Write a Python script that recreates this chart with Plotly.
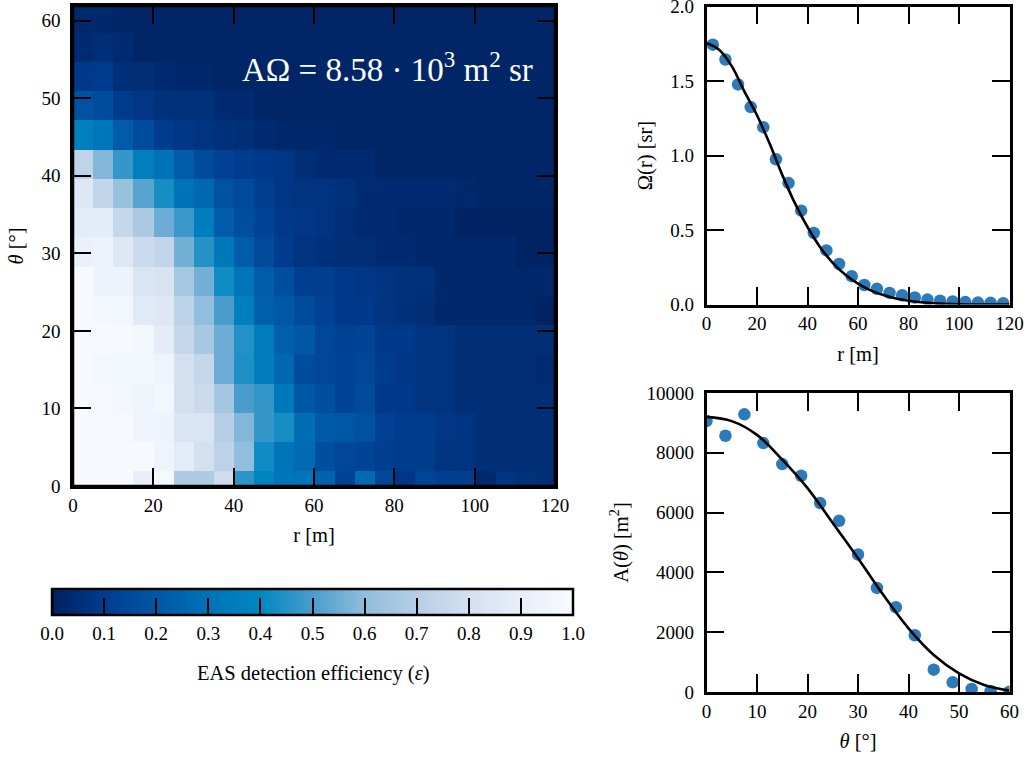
import plotly.graph_objects as go

# ---------- data ----------
r_bins = [2.5 + 5 * i for i in range(24)]
theta_bins = [0, 3.75, 7.5, 11.25, 15, 18.75, 22.5, 26.25, 30, 33.75, 37.5, 41.25, 45, 48.75, 52.5, 56.25, 60]
eff = [
 [.99,.99,.99,.90,.98,.68,.68,.78,.46,.38,.32,.31,.24,.12,.27,.14,.08,.13,.11,.11,.03,.07,.06,.05],
 [.99,.99,.99,.99,.94,.87,.80,.72,.60,.42,.31,.27,.17,.14,.13,.11,.10,.10,.07,.07,.05,.05,.05,.05],
 [.99,.99,.98,.95,.93,.83,.83,.70,.58,.47,.43,.28,.21,.20,.18,.12,.10,.10,.08,.07,.05,.05,.05,.05],
 [.99,.99,.96,.94,.96,.80,.77,.65,.50,.47,.33,.20,.17,.13,.15,.09,.09,.07,.07,.05,.05,.05,.05,.05],
 [.99,.96,.97,.97,.94,.80,.75,.55,.44,.35,.26,.16,.14,.13,.14,.10,.08,.07,.07,.05,.05,.05,.05,.04],
 [.99,.99,.99,.96,.88,.75,.66,.55,.45,.34,.23,.20,.14,.12,.13,.09,.09,.07,.07,.05,.05,.05,.05,.05],
 [.99,.97,.96,.86,.85,.72,.60,.50,.36,.23,.20,.15,.12,.09,.09,.07,.06,.05,.03,.03,.03,.03,.03,.01],
 [.99,.93,.93,.83,.82,.66,.56,.42,.31,.22,.17,.11,.11,.09,.08,.07,.06,.06,.03,.03,.03,.03,.03,.03],
 [.92,.93,.85,.77,.74,.56,.45,.33,.22,.15,.10,.07,.06,.05,.05,.04,.04,.03,.03,.03,.03,.03,.01,.01],
 [.88,.88,.75,.67,.55,.48,.35,.22,.17,.13,.09,.08,.07,.05,.04,.04,.03,.03,.03,.01,.01,.01,.01,.01],
 [.85,.74,.62,.52,.43,.30,.26,.18,.15,.11,.08,.07,.07,.06,.04,.04,.04,.04,.04,.03,.02,.02,.02,.02],
 [.73,.58,.47,.36,.30,.22,.16,.12,.10,.09,.08,.05,.04,.04,.04,.02,.02,.02,.02,.02,.02,.02,.02,.02],
 [.36,.32,.22,.16,.10,.08,.07,.06,.05,.04,.03,.03,.03,.02,.02,.02,.02,.02,.02,.02,.02,.02,.02,.02],
 [.18,.16,.10,.08,.06,.06,.06,.04,.04,.02,.02,.02,.02,.02,.02,.02,.02,.02,.02,.02,.02,.02,.02,.02],
 [.09,.10,.05,.05,.04,.03,.03,.02,.02,.02,.02,.02,.02,.02,.02,.02,.02,.02,.02,.02,.02,.02,.02,.02],
 [.04,.05,.04,.02,.02,.02,.02,.02,.02,.02,.02,.02,.02,.02,.02,.02,.02,.02,.02,.02,.02,.02,.02,.02],
 [.03,.03,.02,.02,.02,.02,.02,.02,.02,.02,.02,.02,.02,.02,.02,.02,.02,.02,.02,.02,.02,.02,.02,.02],
]
omega_r = r_bins
omega_vals = [1.744,1.644,1.477,1.325,1.19,.975,.815,.63,.48,.363,.272,.19,.131,.105,.078,.062,.047,.033,.025,.02,.016,.013,.011,.009]
omega_fit_r = [0,5,10,15,20,25,30,35,40,45,50,55,60,65,70,75,80,85,90,100,120]
omega_fit = [1.755,1.71,1.60,1.43,1.27,1.08,.87,.68,.52,.385,.28,.20,.14,.095,.063,.04,.025,.015,.008,.002,0]
area_theta = theta_bins
area_vals = [9062,8571,9286,8326,7623,7232,6317,5725,4598,3482,2835,1897,748,324,100,30,10]
area_fit_theta = [0,5,10,15,20,25,30,35,40,45,50,55,60]
area_fit = [9200,9060,8600,7770,6820,5650,4475,3250,2130,1240,625,235,45]
colors = [[0,"#00205f"],[.1,"#003c8e"],[.2,"#0057a6"],[.3,"#0072b8"],[.4,"#0088c0"],[.5,"#4a9ccd"],
          [.6,"#90bedc"],[.7,"#b6cee6"],[.8,"#d4e0f0"],[.9,"#e8effa"],[1,"#f8fbff"]]
annotation_text = "AΩ = 8.58 · 10<sup>3</sup> m<sup>2</sup> sr"

# ---------- layout helpers ----------
W, H = 1028, 758
def dx(a, b): return [a / W, b / W]
def dy(top, bot): return [1 - bot / H, 1 - top / H]
FONT = "Liberation Serif"
TICK = dict(family=FONT, size=19, color="black")
TITLE = dict(family=FONT, size=20.5, color="black")
def ax(**k):
    base = dict(showline=True, linecolor="black", linewidth=2.5, mirror="allticks", ticks="inside",
                ticklen=18, tickwidth=1.5, tickcolor="black", showgrid=False, zeroline=False,
                tickfont=TICK, ticklabelstandoff=6, ticklabeloverflow="allow")
    base.update(k)
    return base
def xax(**k):
    return ax(ticklabelstandoff=0, **k)

fig = go.Figure()
fig.add_trace(go.Heatmap(x=r_bins, y=theta_bins, z=eff, coloraxis="coloraxis", xaxis="x", yaxis="y", hoverinfo="skip"))
fig.add_trace(go.Scatter(x=omega_r, y=omega_vals, mode="markers", marker=dict(size=12.5, color="#2b7bba"), xaxis="x3", yaxis="y3"))
fig.add_trace(go.Scatter(x=omega_fit_r, y=omega_fit, mode="lines", line=dict(color="black", width=2.6, shape="spline"), xaxis="x3", yaxis="y3"))
fig.add_trace(go.Scatter(x=area_theta, y=area_vals, mode="markers", marker=dict(size=12.5, color="#2b7bba"), xaxis="x4", yaxis="y4"))
fig.add_trace(go.Scatter(x=area_fit_theta, y=area_fit, mode="lines", line=dict(color="black", width=2.6, shape="spline"), xaxis="x4", yaxis="y4"))

fig.update_layout(
    width=W, height=H, autosize=False, margin=dict(l=0, r=0, t=0, b=0, autoexpand=False), showlegend=False,
    paper_bgcolor="white", plot_bgcolor="rgba(0,0,0,0)",
    coloraxis=dict(colorscale=colors, cmin=0, cmax=1, colorbar=dict(
        orientation="h", x=52 / W, xanchor="left", y=1 - 589 / H, yanchor="top",
        lenmode="pixels", len=521, thicknessmode="pixels", thickness=26, xpad=0, ypad=0,
        outlinecolor="black", outlinewidth=2.5, ticks="inside", ticklen=18, tickwidth=1.5, tickcolor="black",
        dtick=0.1, tick0=0, tickformat=".1f", tickfont=TICK)),
    # image axes: the raster runs slightly past the frame
    xaxis=dict(domain=dx(73, 556), range=[0, 120], visible=False, anchor="y"),
    yaxis=dict(domain=dy(3.5, 486), range=[0, 61.875], visible=False, anchor="x"),
    # frame of the efficiency map
    xaxis2=xax(domain=dx(73, 555), range=[0, 120], dtick=20, anchor="y2", title=dict(text="r [m]", font=TITLE, standoff=14)),
    yaxis2=ax(domain=dy(6, 486), range=[0, 61.9], dtick=10, anchor="x2", title=dict(text="<i>θ</i> [°]", font=TITLE, standoff=13)),
    xaxis3=xax(domain=dx(706.5, 1009.5), range=[0, 120], dtick=20, anchor="y3", title=dict(text="r [m]", font=TITLE, standoff=14)),
    yaxis3=ax(domain=dy(6.5, 304.5), range=[0, 2], dtick=0.5, tickformat=".1f", anchor="x3", title=dict(text="Ω(r) [sr]", font=TITLE, standoff=13)),
    xaxis4=xax(domain=dx(706.5, 1009.5), range=[0, 60], dtick=10, anchor="y4", title=dict(text="<i>θ</i> [°]", font=TITLE, standoff=14)),
    yaxis4=ax(domain=dy(393, 692), range=[0, 10000], dtick=2000, tickformat="d", anchor="x4", title=dict(text="A(<i>θ</i>) [m<sup>2</sup>]", font=TITLE, standoff=13)),
    shapes=[dict(type="rect", xref="paper", yref="paper", x0=73 / W, x1=555 / W, y0=1 - 486 / H, y1=1 - 6 / H,
                 line=dict(color="black", width=2.5), fillcolor="rgba(0,0,0,0)", layer="above")],
    annotations=[
        dict(text=annotation_text, xref="x2", yref="y2", x=115, y=54, xanchor="right", yanchor="middle",
             showarrow=False, font=dict(family=FONT, size=33, color="white")),
        dict(text="EAS detection efficiency (<i>ε</i>)", xref="paper", yref="paper", x=313 / W, y=1 - 673 / H,
             xanchor="center", yanchor="middle", showarrow=False, font=TITLE),
    ],
)
fig.write_html("out.html", config={"displayModeBar": False}, post_script="document.body.style.margin='0';")
